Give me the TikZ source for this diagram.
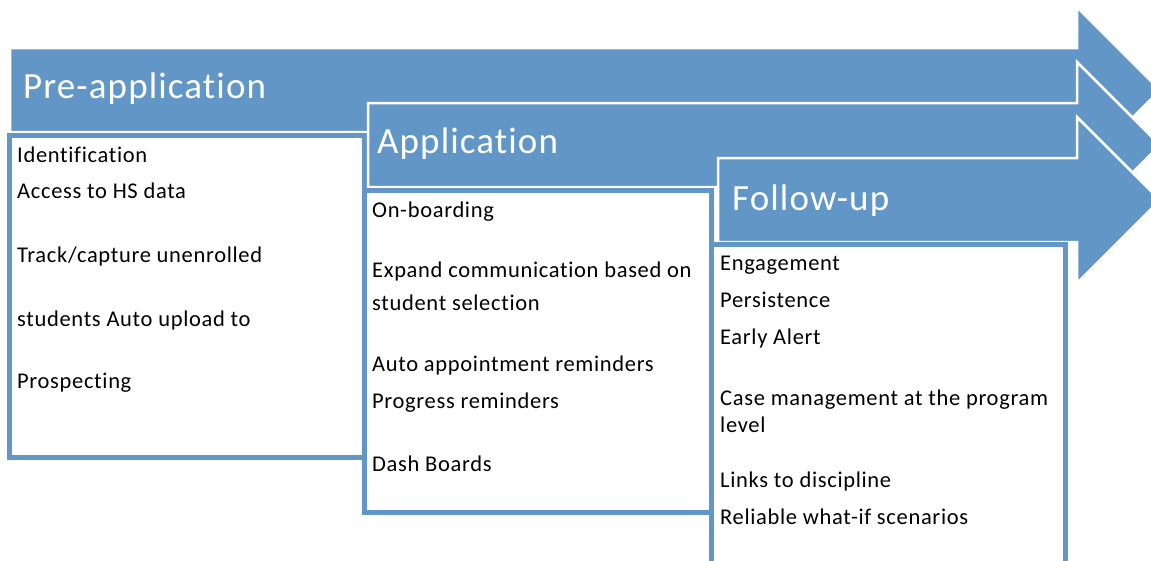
\documentclass[tikz,border=0pt]{standalone}
\usepackage{fontspec}
\setmainfont{Carlito}[Ligatures=NoCommon, LetterSpace=3]
\definecolor{colorPhase}{RGB}{98,150,199}
\tikzset{
  phase/.style={fill=colorPhase, draw=white, line width=2.5pt, line join=miter},
  listbox/.style={fill=white, draw=colorPhase, line width=5pt},
  phasetitle/.style={anchor=base west, inner sep=0pt, text=white, font=\fontsize{37}{44}\selectfont},
  item/.style={anchor=base west, inner sep=0pt, font=\fontsize{22.5}{27}\selectfont}
}

\begin{document}
\begin{tikzpicture}[x=1pt, y=-1pt]
\clip (0,0) rectangle (1151,560);
\fill[white] (0,0) rectangle (1151,560);
\foreach \l/\c/\bl/\bt/\br/\bb in {10/90/9.5/135.5/364/457.5, 368/145/364/190.5/711.5/512.5, 718/200/711.5/244.5/1065.5/600}{
  \draw[phase] (\l,\c-42) -- (1077,\c-42) -- (1077,\c-83) -- (1160,\c) -- (1077,\c+83) -- (1077,\c+42) -- (\l,\c+42) -- cycle;
  \draw[listbox] (\bl,\bt) rectangle (\br,\bb);
}
\node[phasetitle] (pre) at (23,98) {Pre-application};
\node[phasetitle] (app) at (377,153) {Application};
\node[phasetitle] (fol) at (732,210) {Follow-up};
\foreach \n/\y/\t in {1/162/Identification, 2/198/Access to HS data, 3/262/{Track/capture unenrolled}, 4/326/students Auto upload to, 5/388/Prospecting}
  \node[item] (pre\n) at (17,\y) {\t};
\foreach \n/\y/\t in {1/217/On-boarding, 2/277/Expand communication based on, 3/310/student selection, 4/371/Auto appointment reminders, 5/408/Progress reminders, 6/471/Dash Boards}
  \node[item] (app\n) at (372,\y) {\t};
\foreach \n/\y/\t in {1/270/Engagement, 2/307/Persistence, 3/344/Early Alert, 4/405/Case management at the program, 5/432/level, 6/487/Links to discipline, 7/524/Reliable what-if scenarios}
  \node[item] (fol\n) at (720,\y) {\t};
\end{tikzpicture}
\end{document}
